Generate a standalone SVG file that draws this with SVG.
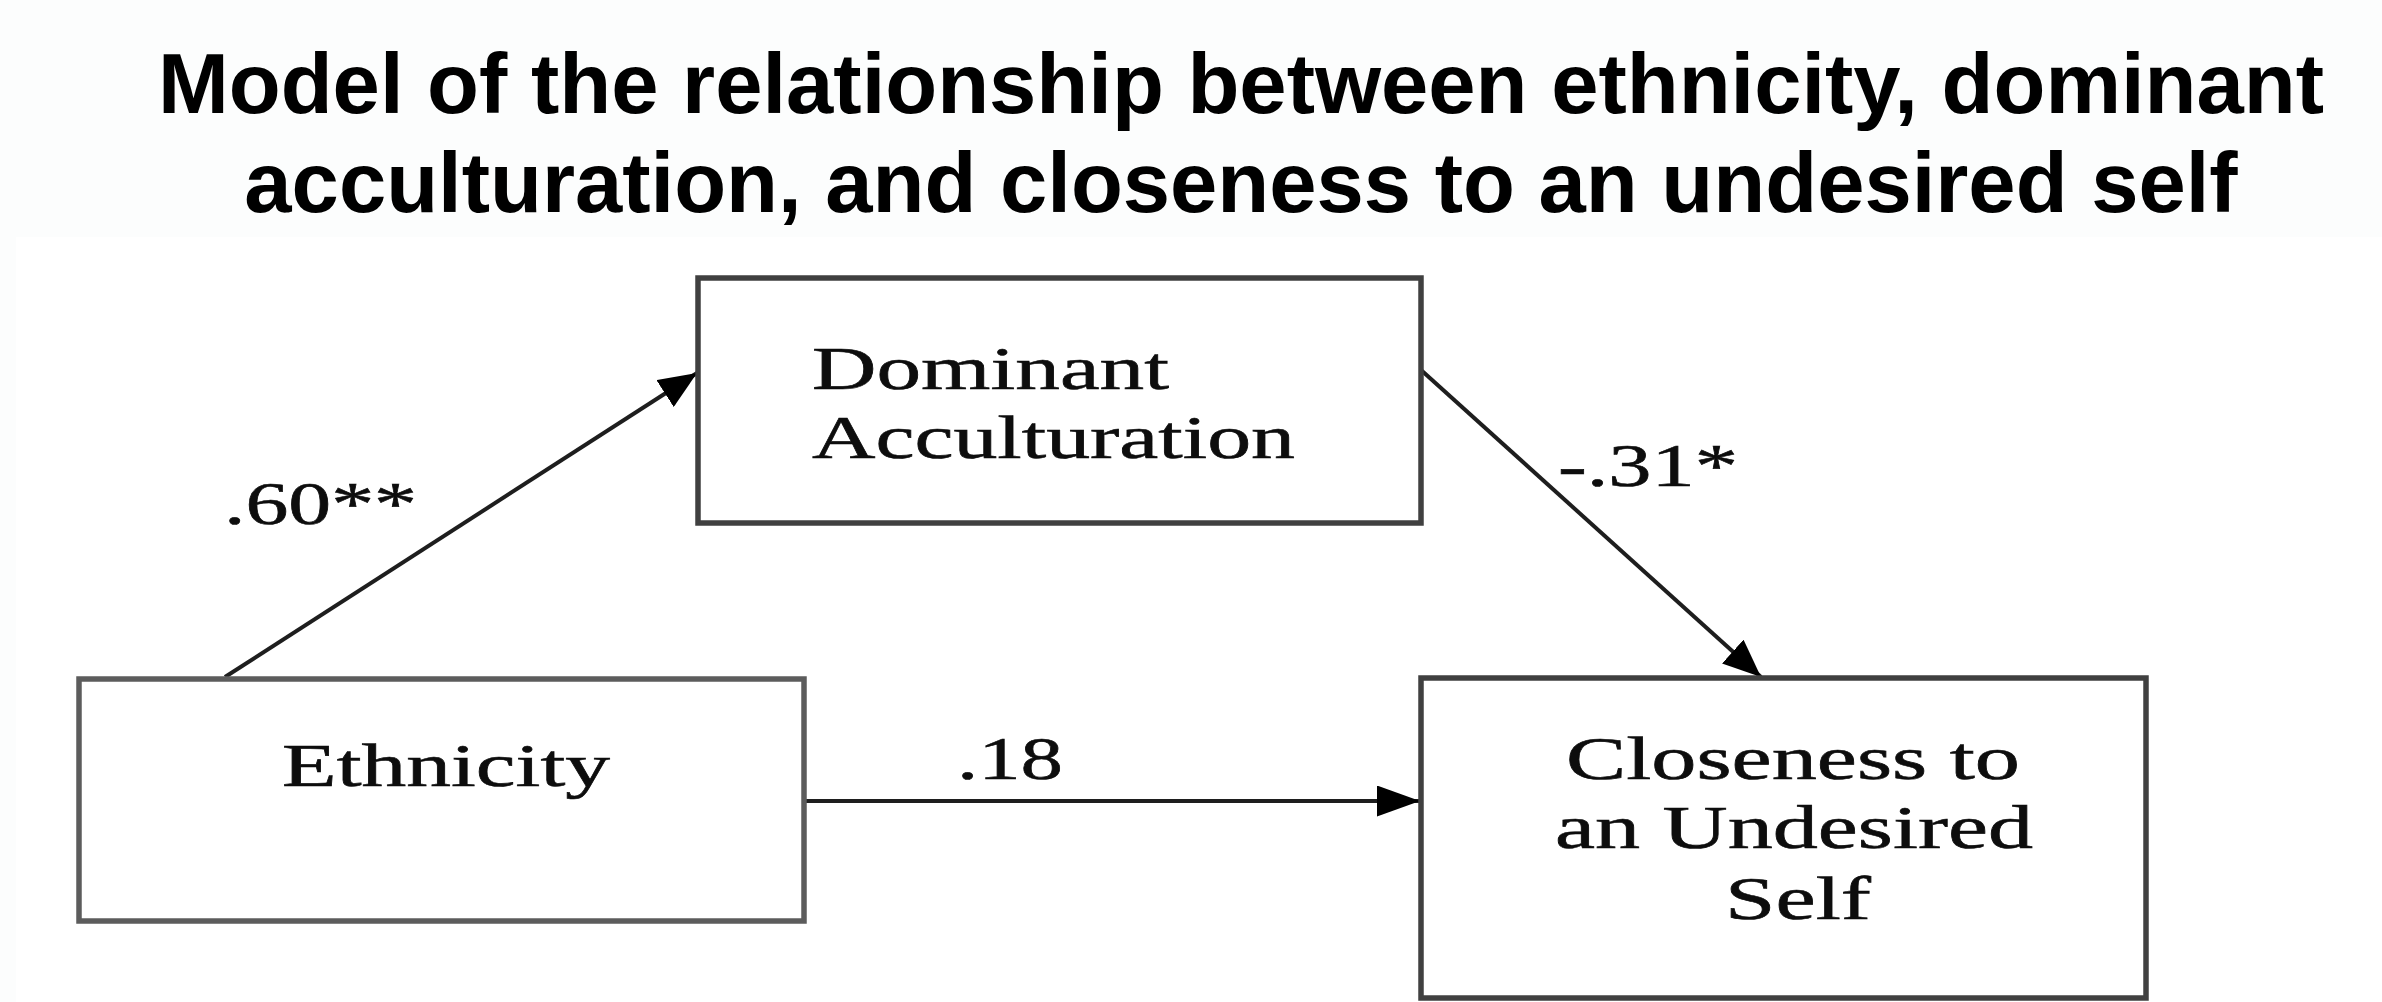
<svg xmlns="http://www.w3.org/2000/svg" width="2382" height="1002" viewBox="0 0 2382 1002">
<style>
.title{font-family:"Liberation Sans",Arial,sans-serif;font-weight:bold;font-size:85px;fill:#000;text-anchor:middle}
.box{fill:#fff;stroke:#404040;stroke-width:5.5}
.box.light{stroke:#5c5c5c}
.lbl{font-family:"Liberation Serif","Times New Roman",serif;font-size:61px;fill:#0d0d0d;stroke:#0d0d0d;stroke-width:0.6}
.edge{fill:none;stroke:#1e1e1e;stroke-width:4}
</style>
<defs>
<marker id="arr" markerUnits="userSpaceOnUse" markerWidth="38" markerHeight="32" refX="38" refY="16" orient="auto">
<path d="M0,0 L38,16 L0,32 z" fill="#000"/>
</marker>
<marker id="arrH" markerUnits="userSpaceOnUse" markerWidth="43" markerHeight="31" refX="43" refY="15.5" orient="auto">
<path d="M0,0 L43,15.5 L0,31 z" fill="#000"/>
</marker>
</defs>
<rect x="0" y="0" width="2382" height="1002" fill="#fcfdfd"/>
<rect x="16" y="237" width="2366" height="765" fill="#fff"/>
<g id="title">
<text class="title" x="1241" y="113">Model of the relationship between ethnicity, dominant</text>
<text class="title" x="1241" y="212">acculturation, and closeness to an undesired self</text>
</g>
<g id="connectors">
<line class="edge" x1="225" y1="677" x2="697" y2="373" marker-end="url(#arr)"/>
<line class="edge" x1="1421" y1="370" x2="1761" y2="677" marker-end="url(#arr)"/>
<line class="edge" x1="804" y1="801" x2="1420" y2="801" marker-end="url(#arrH)"/>
<text class="lbl" x="224" y="524" textLength="193" lengthAdjust="spacingAndGlyphs">.60**</text>
<text class="lbl" x="1558" y="486" textLength="180" lengthAdjust="spacingAndGlyphs">-.31*</text>
<text class="lbl" x="957" y="779" textLength="106" lengthAdjust="spacingAndGlyphs">.18</text>
</g>
<g id="node-dominant">
<rect class="box" x="698" y="278" width="723" height="245"/>
<text class="lbl" x="812" y="389" textLength="357" lengthAdjust="spacingAndGlyphs">Dominant</text>
<text class="lbl" x="812" y="458" textLength="483" lengthAdjust="spacingAndGlyphs">Acculturation</text>
</g>
<g id="node-ethnicity">
<rect class="box light" x="79" y="679" width="725" height="242"/>
<text class="lbl" x="282" y="786" textLength="328" lengthAdjust="spacingAndGlyphs">Ethnicity</text>
</g>
<g id="node-closeness">
<rect class="box" x="1421" y="678" width="725" height="320"/>
<text class="lbl" x="1566" y="779" textLength="454" lengthAdjust="spacingAndGlyphs">Closeness to</text>
<text class="lbl" x="1555" y="848" textLength="478" lengthAdjust="spacingAndGlyphs">an Undesired</text>
<text class="lbl" x="1725" y="919" textLength="146" lengthAdjust="spacingAndGlyphs">Self</text>
</g>
</svg>
